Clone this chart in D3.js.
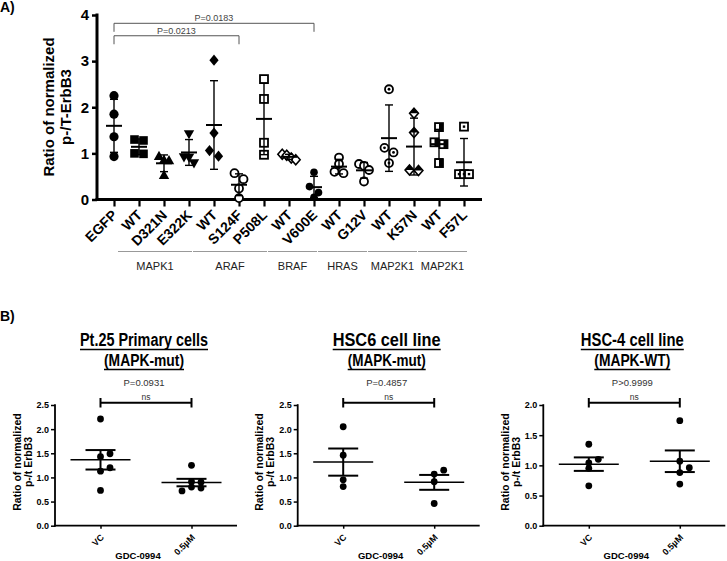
<!DOCTYPE html>
<html><head><meta charset="utf-8">
<script src="https://cdn.jsdelivr.net/npm/d3@7"></script>
<style>body{margin:0;background:#fff}svg{display:block}</style>
</head><body><svg id="c" width="727" height="561"></svg>
<script>
// ---------------- DATA ----------------
// Panel A
const catLabels = ["EGFP","WT","D321N","E322K","WT","S124F","P508L","WT","V600E","WT","G12V","WT","K57N","WT","F57L"];
const catSymbols = ["circle","square","triangle","triangleDown","diamond","circleOpen","squareOpen","diamondOpen","circleSmall","circleOpen","circleOpen","circleDot","diamondHalf","squareHalf","squareDot"];
const ratioA = [
  [2.25,1.85,1.36,0.93],
  [1.30,1.28,0.99,1.00],
  [0.93,0.85,0.84,0.52],
  [1.43,0.93,0.92,0.80],
  [3.02,1.44,1.06,0.94],
  [0.57,0.44,0.24,0.03],
  [2.61,2.18,1.23,0.97],
  [0.98,0.96,0.90,0.86],
  [0.59,0.28,0.15,0.05],
  [0.91,0.77,0.60,0.57],
  [0.77,0.73,0.64,0.39],
  [2.39,1.12,1.02,0.79],
  [1.87,1.45,0.64,0.63],
  [1.57,1.24,1.20,0.79],
  [1.58,0.55,0.55,0.55]
];
const yTicksA = [0,1,2,3,4];
const groupNames = ["MAPK1","ARAF","BRAF","HRAS","MAP2K1","MAP2K1"];
const groupFirst = [1,4,7,9,11,13];
const groupLast  = [3,6,8,10,12,14];
const sigLabels = ["P=0.0183","P=0.0213"];
const sigFrom = [0,0];
const sigTo = [8,5];
const sigLevel = [3.82,3.55];

// Panel B
const titlesB1 = ["Pt.25 Primary cells","HSC6 cell line","HSC-4 cell line"];
const titlesB2 = ["(MAPK-mut)","(MAPK-mut)","(MAPK-WT)"];
const pLabelsB = ["P=0.0931","P=0.4857","P>0.9999"];
const xCatsB = ["VC","0.5\u00b5M"];
const vcB = [[2.21,1.43,1.49,1.13,1.20,0.73],[2.05,1.46,0.95,0.81],[1.35,1.04,1.10,0.95,0.66]];
const drugB = [[1.25,0.80,0.91,0.90,0.78,0.72],[1.07,1.15,0.91,0.46],[1.74,1.07,0.88,0.96,0.69]];
const yMaxB = [2.5,2.5,2.0];
const yTicksB = [[0,0.5,1,1.5,2,2.5],[0,0.5,1,1.5,2,2.5],[0,0.5,1,1.5,2]];

// ---------------- LAYOUT ----------------
const F = '"Liberation Sans", Arial, Helvetica, sans-serif';
const svg = d3.select("#c");

// ---------------- PANEL A ----------------
const xA = d3.scalePoint().domain(d3.range(catLabels.length)).range([114, 464]);
const yA = d3.scaleLinear().domain([0,4]).range([199.5, 15]);
const gA = svg.append("g");

gA.append("text").attr("x",0).attr("y",12).text("A)")
  .attr("font-family",F).attr("font-weight","bold").attr("font-size",14);

// axes
gA.append("g").attr("transform","translate(97,0)")
  .call(d3.axisLeft(yA).tickValues(yTicksA).tickSize(5).tickSizeOuter(0).tickPadding(3).tickFormat(d3.format("d")))
  .call(g=>{g.select(".domain").remove();
    g.selectAll("line").attr("stroke","#000").attr("stroke-width",2.5);
    g.selectAll("text").attr("font-family",F).attr("font-weight","bold").attr("font-size",15).attr("fill","#000");});
gA.append("g").attr("transform",`translate(0,${yA(0)})`)
  .call(d3.axisBottom(xA).tickSize(7).tickSizeOuter(0).tickFormat(""))
  .call(g=>{g.select(".domain").remove();
    g.selectAll("line").attr("stroke","#000").attr("stroke-width",2.2);});
gA.append("line").attr("x1",97).attr("x2",97).attr("y1",yA(4)-1.5).attr("y2",yA(0)+1.5)
  .attr("stroke","#000").attr("stroke-width",3);
gA.append("line").attr("x1",95.5).attr("x2",xA(catLabels.length-1)+18).attr("y1",yA(0)).attr("y2",yA(0))
  .attr("stroke","#000").attr("stroke-width",3);

// y title
const yt = gA.append("text").attr("transform","translate(53.5,107) rotate(-90)")
  .attr("text-anchor","middle").attr("font-family",F).attr("font-weight","bold").attr("font-size",15);
yt.text("Ratio of normalized");
gA.append("text").attr("transform","translate(70.5,107) rotate(-90)")
  .attr("text-anchor","middle").attr("font-family",F).attr("font-weight","bold").attr("font-size",15)
  .text("p-/T-ErbB3");

// x labels
catLabels.forEach((lab,i)=>{
  gA.append("text").attr("transform",`translate(${xA(i)+4},216) rotate(-45)`)
    .attr("text-anchor","end").attr("font-family",F).attr("font-weight","bold").attr("font-size",14)
    .text(lab);
});

// group lines
groupNames.forEach((n,k)=>{
  const x1 = xA(groupFirst[k])-21, x2 = xA(groupLast[k])+3;
  gA.append("line").attr("x1",x1).attr("x2",x2).attr("y1",251.5).attr("y2",251.5)
    .attr("stroke","#999").attr("stroke-width",1);
  gA.append("text").attr("x",(x1+x2)/2).attr("y",270).attr("text-anchor","middle")
    .attr("font-family",F).attr("font-size",11).attr("fill","#222").text(n);
});

// significance brackets
sigLabels.forEach((lab,k)=>{
  const x1=xA(sigFrom[k]), x2=xA(sigTo[k]), y=yA(sigLevel[k]);
  gA.append("path").attr("d",`M${x1},${y+8.5}V${y}H${x2}V${y+8.5}`)
    .attr("fill","none").attr("stroke","#555").attr("stroke-width",1);
  gA.append("text").attr("x",(x1+x2)/2).attr("y",y-2).attr("text-anchor","middle")
    .attr("font-family",F).attr("font-size",9).attr("fill","#444").text(lab);
});

// symbol drawing
function drawSymbol(g, type, cx, cy){
  const s = g.append("g").attr("transform",`translate(${cx},${cy})`);
  const blk="#000", sw=1.8;
  switch(type){
    case "circle": s.append("circle").attr("r",4.6).attr("fill",blk); break;
    case "circleSmall": s.append("circle").attr("r",3.8).attr("fill",blk); break;
    case "square": s.append("rect").attr("x",-4.3).attr("y",-4.3).attr("width",8.6).attr("height",8.6).attr("fill",blk); break;
    case "triangle": s.append("path").attr("d","M0,-5.8L5.2,3.4L-5.2,3.4Z").attr("fill",blk); break;
    case "triangleDown": s.append("path").attr("d","M0,5.8L5.2,-3.4L-5.2,-3.4Z").attr("fill",blk); break;
    case "diamond": s.append("path").attr("d","M0,-5.6L4.6,0L0,5.6L-4.6,0Z").attr("fill",blk); break;
    case "circleOpen": s.append("circle").attr("r",4).attr("fill","#fff").attr("stroke",blk).attr("stroke-width",sw); break;
    case "squareOpen": s.append("rect").attr("x",-4).attr("y",-4).attr("width",8).attr("height",8).attr("fill","#fff").attr("stroke",blk).attr("stroke-width",sw); break;
    case "diamondOpen": s.append("path").attr("d","M0,-5L4.4,0L0,5L-4.4,0Z").attr("fill","#fff").attr("stroke",blk).attr("stroke-width",1.6); break;
    case "circleDot":
      s.append("circle").attr("r",4).attr("fill","#fff").attr("stroke",blk).attr("stroke-width",sw);
      s.append("circle").attr("r",1.4).attr("fill",blk); break;
    case "diamondHalf":
      s.append("path").attr("d","M0,-5L4.4,0L0,5L-4.4,0Z").attr("fill","#fff").attr("stroke",blk).attr("stroke-width",1.6);
      s.append("path").attr("d","M0,-5L4.4,0L-4.4,0Z").attr("fill",blk); break;
    case "squareHalf":
      s.append("rect").attr("x",-4).attr("y",-4).attr("width",8).attr("height",8).attr("fill","#fff").attr("stroke",blk).attr("stroke-width",sw);
      s.append("rect").attr("x",0).attr("y",-4).attr("width",4).attr("height",8).attr("fill",blk); break;
    case "squareDot":
      s.append("rect").attr("x",-4).attr("y",-4).attr("width",8).attr("height",8).attr("fill","#fff").attr("stroke",blk).attr("stroke-width",sw);
      s.append("rect").attr("x",-1.2).attr("y",-1.2).attr("width",2.4).attr("height",2.4).attr("fill",blk); break;
  }
}

// row-based symmetric spread (GraphPad-like scatter)
function rowSpread(vals, ys, thr){
  const idx = d3.range(vals.length).sort((a,b)=>vals[b]-vals[a]);
  const off = new Array(vals.length).fill(0);
  let row = [];
  const flush = ()=>{ const n=row.length; const sp = n===2?9:(n===3?5:4.5);
    row.forEach((k,j)=>off[k]=(j-(n-1)/2)*sp); row=[]; };
  idx.forEach(k=>{
    if(row.length && ys(vals[k]) - ys(vals[row[0]]) > thr) flush();
    row.push(k);
  });
  flush();
  return off;
}

ratioA.forEach((vals,i)=>{
  const off = rowSpread(vals, yA, 6);
  vals.forEach((v,j)=> drawSymbol(gA, catSymbols[i], xA(i)+off[j], yA(v)));
});
// error bars mean ± SD
ratioA.forEach((vals,i)=>{
  const m = d3.mean(vals), sd = d3.deviation(vals), cx = xA(i);
  const lo = Math.max(0, m-sd), hi = m+sd;
  gA.append("line").attr("x1",cx).attr("x2",cx).attr("y1",yA(lo)).attr("y2",yA(hi)).attr("stroke","#000").attr("stroke-width",1.4);
  gA.append("line").attr("x1",cx-4).attr("x2",cx+4).attr("y1",yA(hi)).attr("y2",yA(hi)).attr("stroke","#000").attr("stroke-width",1.4);
  if(m-sd>0) gA.append("line").attr("x1",cx-4).attr("x2",cx+4).attr("y1",yA(lo)).attr("y2",yA(lo)).attr("stroke","#000").attr("stroke-width",1.4);
  gA.append("line").attr("x1",cx-8).attr("x2",cx+8).attr("y1",yA(m)).attr("y2",yA(m)).attr("stroke","#000").attr("stroke-width",2);
});

// ---------------- PANEL B ----------------
svg.append("text").attr("x",0).attr("y",321).text("B)")
  .attr("font-family",F).attr("font-weight","bold").attr("font-size",14);

const axisXB = [55, 297.7, 543.3];
const axisLenB = 182;
const titleW1 = [128,108,103];
const titleW2 = [80,78,76];

function swarm(vals, ys, step, D){
  const placed=[];
  return vals.map(v=>{
    const y = ys(v);
    for(const c of [0,step,-step,2*step,-2*step]){
      if(placed.every(p=>Math.hypot(p[0]-c,p[1]-y)>=D)){ placed.push([c,y]); return c; }
    }
    placed.push([0,y]); return 0;
  });
}

titlesB1.forEach((t,p)=>{
  const ax = axisXB[p];
  const g = svg.append("g");
  const xB = d3.scalePoint().domain(xCatsB).range([ax, ax+axisLenB]).padding(0.5);
  const yB = d3.scaleLinear().domain([0,yMaxB[p]]).range([525.7, 405]);
  const cxT = (xB(xCatsB[0])+xB(xCatsB[1]))/2 - 2;

  // titles
  g.append("text").attr("x",cxT).attr("y",346).attr("text-anchor","middle")
    .attr("font-family",F).attr("font-weight","bold").attr("font-size",18)
    .attr("textLength",titleW1[p]).attr("lengthAdjust","spacingAndGlyphs").text(t);
  g.append("line").attr("x1",cxT-titleW1[p]/2).attr("x2",cxT+titleW1[p]/2).attr("y1",349.5).attr("y2",349.5)
    .attr("stroke","#000").attr("stroke-width",1.5);
  g.append("text").attr("x",cxT).attr("y",366).attr("text-anchor","middle")
    .attr("font-family",F).attr("font-weight","bold").attr("font-size",17)
    .attr("textLength",titleW2[p]).attr("lengthAdjust","spacingAndGlyphs").text(titlesB2[p]);
  g.append("line").attr("x1",cxT-titleW2[p]/2).attr("x2",cxT+titleW2[p]/2).attr("y1",369.5).attr("y2",369.5)
    .attr("stroke","#000").attr("stroke-width",1.5);

  // p label + bracket
  g.append("text").attr("x",cxT).attr("y",386).attr("text-anchor","middle")
    .attr("font-family",F).attr("font-size",9.5).attr("fill","#333").text(pLabelsB[p]);
  const bx1 = xB(xCatsB[0]), bx2 = xB(xCatsB[1]);
  g.append("line").attr("x1",bx1).attr("x2",bx2).attr("y1",402.7).attr("y2",402.7).attr("stroke","#000").attr("stroke-width",2);
  [bx1,bx2].forEach(bx=>g.append("line").attr("x1",bx).attr("x2",bx).attr("y1",398).attr("y2",407.5).attr("stroke","#000").attr("stroke-width",2));
  g.append("text").attr("x",(bx1+bx2)/2).attr("y",400).attr("text-anchor","middle")
    .attr("font-family",F).attr("font-size",8.5).attr("fill","#333").text("ns");

  // axes
  g.append("g").attr("transform",`translate(${ax},0)`)
    .call(d3.axisLeft(yB).tickValues(yTicksB[p]).tickSize(4).tickSizeOuter(0).tickPadding(2).tickFormat(d3.format(".1f")))
    .call(a=>{a.select(".domain").remove();
      a.selectAll("line").attr("stroke","#000").attr("stroke-width",1.5);
      a.selectAll("text").attr("font-family",F).attr("font-weight","bold").attr("font-size",9).attr("fill","#000");});
  g.append("line").attr("x1",ax).attr("x2",ax).attr("y1",yB(yMaxB[p])-0.8).attr("y2",yB(0)+1).attr("stroke","#000").attr("stroke-width",1.8);
  g.append("g").attr("transform",`translate(0,${yB(0)})`)
    .call(d3.axisBottom(xB).tickSize(3).tickSizeOuter(0).tickFormat(""))
    .call(a=>{a.select(".domain").remove(); a.selectAll("line").attr("stroke","#000").attr("stroke-width",1.5);});
  g.append("line").attr("x1",ax-0.9).attr("x2",ax+axisLenB).attr("y1",yB(0)).attr("y2",yB(0)).attr("stroke","#000").attr("stroke-width",1.8);

  // x labels
  xCatsB.forEach(c=>{
    g.append("text").attr("transform",`translate(${xB(c)+4},538) rotate(-45)`)
      .attr("text-anchor","end").attr("font-family",F).attr("font-weight","bold").attr("font-size",9).text(c);
  });
  g.append("text").attr("x",cxT-6).attr("y",559).attr("text-anchor","middle")
    .attr("font-family",F).attr("font-weight","bold").attr("font-size",9.5).text("GDC-0994");

  // y title
  g.append("text").attr("transform",`translate(${ax-34.5},462) rotate(-90)`).attr("text-anchor","middle")
    .attr("font-family",F).attr("font-weight","bold").attr("font-size",10.5).text("Ratio of normalized");
  g.append("text").attr("transform",`translate(${ax-23.5},462) rotate(-90)`).attr("text-anchor","middle")
    .attr("font-family",F).attr("font-weight","bold").attr("font-size",10.5).text("p-/t ErbB3");

  // points + mean ± SEM
  [vcB[p], drugB[p]].forEach((vals,ci)=>{
    const cx = xB(xCatsB[ci]);
    const off = swarm(vals, yB, 9.5, 5);
    vals.forEach((v,j)=> g.append("circle").attr("cx",cx+off[j]).attr("cy",yB(v)).attr("r",3.4).attr("fill","#000"));
    const m = d3.mean(vals), sem = d3.deviation(vals)/Math.sqrt(vals.length);
    g.append("line").attr("x1",cx-30).attr("x2",cx+30).attr("y1",yB(m)).attr("y2",yB(m)).attr("stroke","#000").attr("stroke-width",1.5);
    g.append("line").attr("x1",cx).attr("x2",cx).attr("y1",yB(m-sem)).attr("y2",yB(m+sem)).attr("stroke","#000").attr("stroke-width",2);
    [m-sem,m+sem].forEach(v=>g.append("line").attr("x1",cx-15).attr("x2",cx+15).attr("y1",yB(v)).attr("y2",yB(v)).attr("stroke","#000").attr("stroke-width",2));
  });
});
</script>
</body></html>
